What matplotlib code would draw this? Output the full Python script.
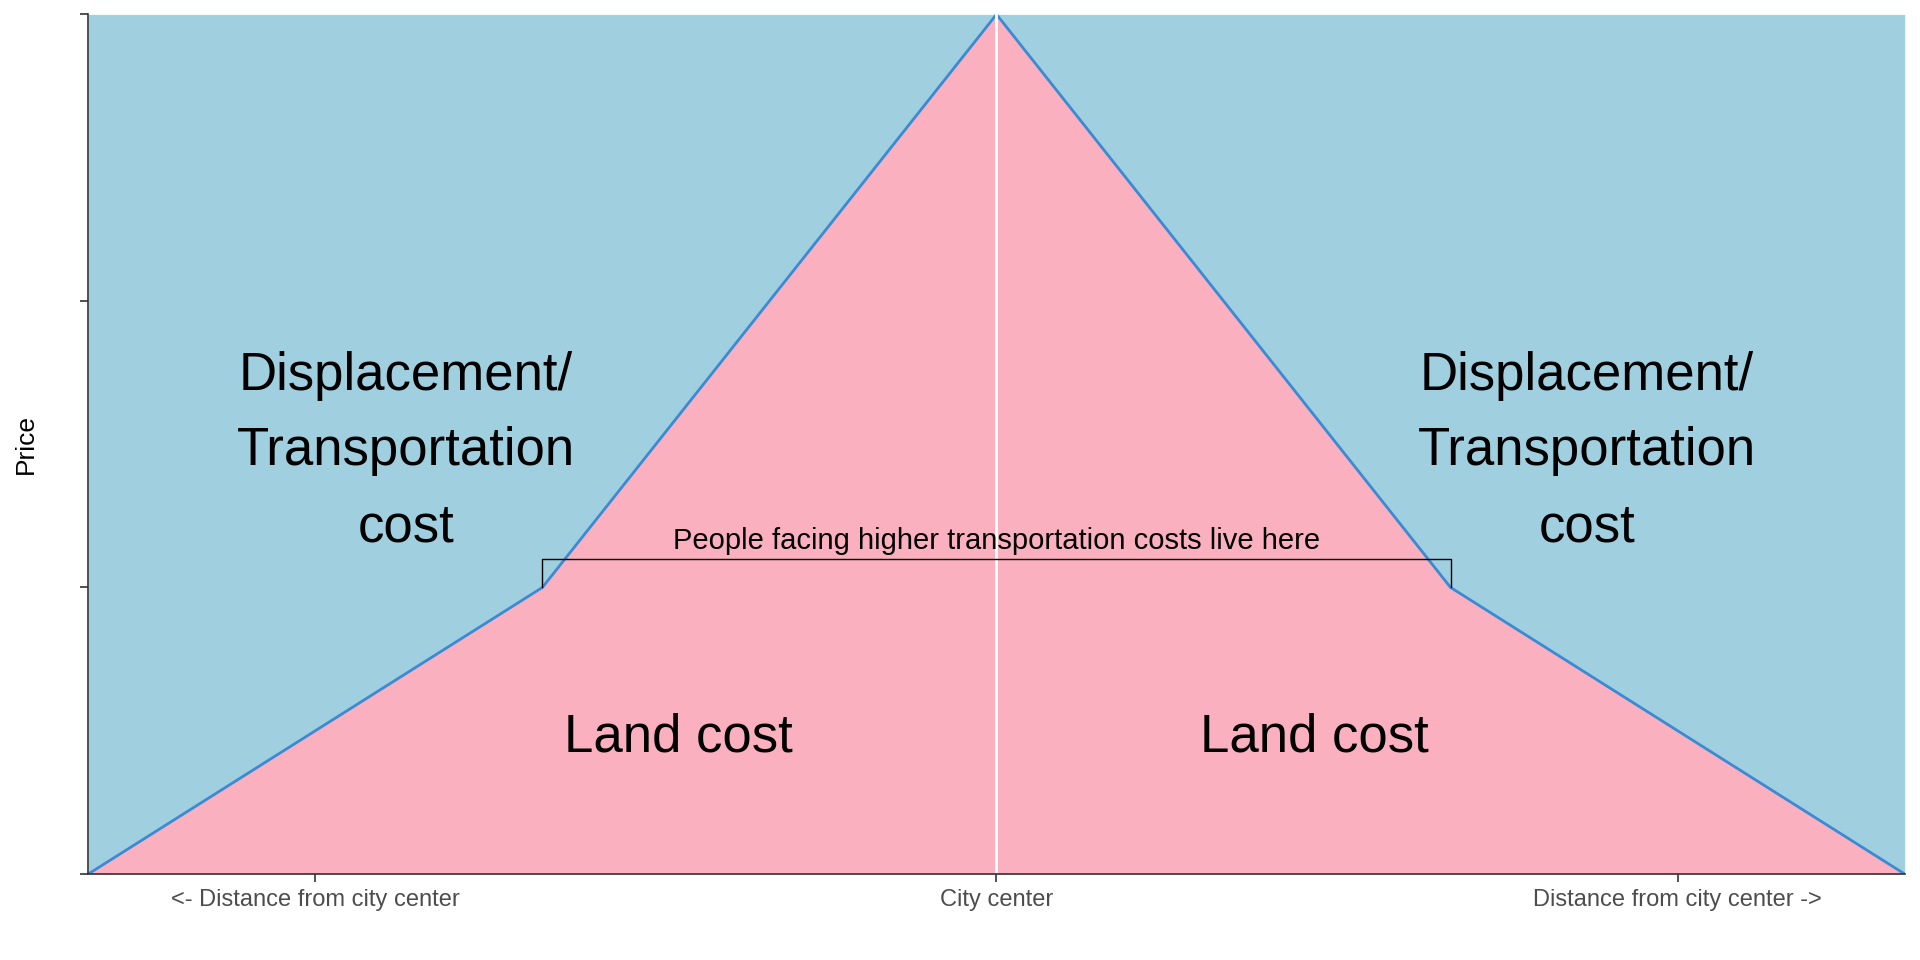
import matplotlib
matplotlib.use("Agg")
import matplotlib.pyplot as plt

plt.rcParams['font.family'] = ['Liberation Sans', 'DejaVu Sans']

# price curve: distance from center vs land cost
dist = [-4, -2, 0, 2, 4]
price = [0, 1, 3, 1, 0]
y_top = 3

x_ticks = [-3, 0, 3]
x_labels = ['<- Distance from city center', 'City center', 'Distance from city center ->']
y_ticks = [0, 1, 2, 3]

bracket_x = [-2, -2, 2, 2]
bracket_y = [1, 1.1, 1.1, 1]

blue = '#a0cfe0'
pink = '#fbb0c0'
line_col = '#3a8ad4'

fig = plt.figure(figsize=(19.2, 9.6), dpi=100)
ax = fig.add_axes([0.046, 0.0896, 0.946, 0.8954])

ax.fill_between(dist, price, y_top, color=blue, linewidth=0)
ax.fill_between(dist, 0, price, color=pink, linewidth=0)
ax.plot(dist, price, color=line_col, linewidth=2)
ax.axvline(0, color='white', linewidth=2)

ax.plot(bracket_x, bracket_y, color='black', linewidth=1)
ax.text(0, 1.115, 'People facing higher transportation costs live here',
        ha='center', va='bottom', fontsize=21)

big = dict(ha='center', va='center', fontsize=38, linespacing=1.66)
ax.text(-2.6, 1.475, 'Displacement/\nTransportation\ncost', **big)
ax.text(2.6, 1.475, 'Displacement/\nTransportation\ncost', **big)
ax.text(-1.4, 0.475, 'Land cost', **big)
ax.text(1.4, 0.475, 'Land cost', **big)

ax.set_xlim(-4, 4)
ax.set_ylim(0, y_top)
ax.set_xticks(x_ticks)
ax.set_xticklabels(x_labels)
ax.set_yticks(y_ticks)
ax.set_yticklabels([])
ax.tick_params(axis='both', length=6, width=1.2, color='#333333',
               labelsize=17, labelcolor='#4d4d4d', pad=5)
ax.set_ylabel('Price', fontsize=19, labelpad=25)
for side in ['top', 'right']:
    ax.spines[side].set_visible(False)
for side in ['left', 'bottom']:
    ax.spines[side].set_color('#333333')
    ax.spines[side].set_linewidth(1.2)

fig.savefig('out.png', dpi=100, facecolor='white')
